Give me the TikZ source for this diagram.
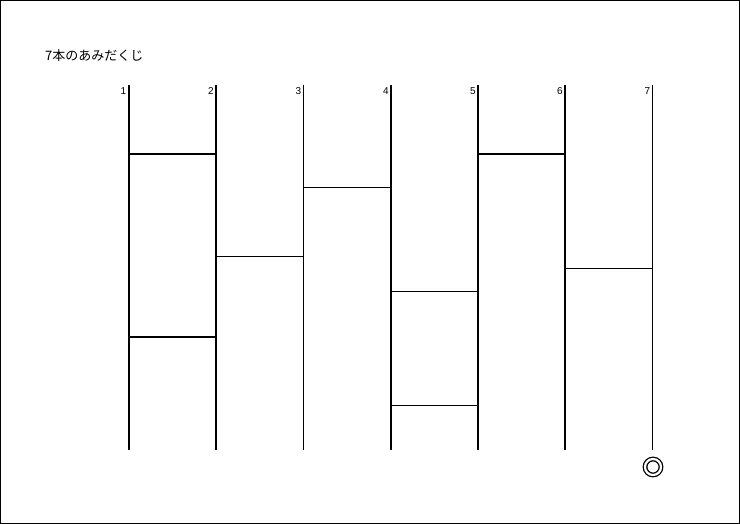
\documentclass[tikz,border=0pt]{standalone}
\usepackage{fontspec}
\setmainfont{Liberation Sans}
\newfontfamily\jpfont{Noto Sans CJK JP}
\usetikzlibrary{calc}

\begin{document}
\begin{tikzpicture}[
    x=1pt, y=-1pt,
    pole/.style={line width=2pt},
    thinpole/.style={line width=1pt},
    rung/.style={line width=2pt},
    thinrung/.style={line width=1pt},
    num/.style={anchor=east, inner sep=0pt, font=\fontsize{10}{10}\selectfont}
]
\useasboundingbox (0,0) rectangle (740,524);
\draw[line width=1pt] (0.5,0.5) rectangle (739.5,523.5);
\node[anchor=west, inner sep=0pt, font=\jpfont\fontsize{13}{13}\selectfont] (title) at (45,56) {7本のあみだくじ};
% tops and bottoms of the poles
\coordinate (t1) at (128.5,85);  \coordinate (b1) at (128.5,450);
\coordinate (t2) at (216,85);    \coordinate (b2) at (216,450);
\coordinate (t3) at (303.5,85);  \coordinate (b3) at (303.5,450);
\coordinate (t4) at (391,85);    \coordinate (b4) at (391,450);
\coordinate (t5) at (478,85);    \coordinate (b5) at (478,450);
\coordinate (t6) at (565,85);    \coordinate (b6) at (565,450);
\coordinate (t7) at (652.5,85);  \coordinate (b7) at (652.5,450);
\draw[pole] (t1) -- (b1);
\draw[pole] (t2) -- (b2);
\draw[thinpole] (t3) -- (b3);
\draw[pole] (t4) -- (b4);
\draw[pole] (t5) -- (b5);
\draw[pole] (t6) -- (b6);
\draw[thinpole] (t7) -- (b7);
\node[num] (n1) at ($(t1)+(-2,6.5)$) {1};
\node[num] (n2) at ($(t2)+(-2,6.5)$) {2};
\node[num] (n3) at ($(t3)+(-2,6.5)$) {3};
\node[num] (n4) at ($(t4)+(-2,6.5)$) {4};
\node[num] (n5) at ($(t5)+(-2,6.5)$) {5};
\node[num] (n6) at ($(t6)+(-2,6.5)$) {6};
\node[num] (n7) at ($(t7)+(-2,6.5)$) {7};
% rungs
\draw[rung] (t1 |- 0,154) -- (t2 |- 0,154);
\draw[rung] (t1 |- 0,337) -- (t2 |- 0,337);
\draw[thinrung] (t2 |- 0,256.5) -- (t3 |- 0,256.5);
\draw[thinrung] (t3 |- 0,188) -- (t4 |- 0,188);
\draw[thinrung] (t4 |- 0,291.5) -- (t5 |- 0,291.5);
\draw[thinrung] (t4 |- 0,405.5) -- (t5 |- 0,405.5);
\draw[rung] (t5 |- 0,154) -- (t6 |- 0,154);
\draw[thinrung] (t6 |- 0,268.5) -- (t7 |- 0,268.5);
\node[circle, draw, double, line width=1.3pt, double distance=2.2pt,
      minimum size=16pt, inner sep=0pt] (goal) at (653,467) {};
\end{tikzpicture}
\end{document}
